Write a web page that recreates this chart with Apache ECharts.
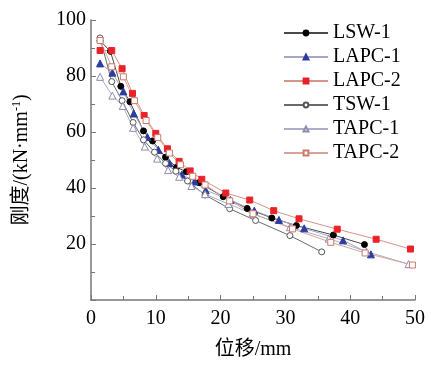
<!DOCTYPE html>
<html>
<head>
<meta charset="utf-8">
<script src="https://cdn.jsdelivr.net/npm/echarts@6/dist/echarts.min.js"></script>
<style>
html,body{margin:0;padding:0;background:#fff;}
#c{width:431px;height:365px;}
</style>
</head>
<body>
<div id="c"></div>
<script>
var names = ['LSW-1','LAPC-1','LAPC-2','TSW-1','TAPC-1','TAPC-2'];

var lswX  = [1.4, 3.0, 4.6, 6.0, 8.1, 9.5, 11.5, 13.2, 14.7, 16.7, 20.4, 24.1, 27.9, 31.7, 37.4, 42.2];
var lswY  = [92.6, 88.8, 76.3, 70.8, 60.4, 56.8, 51.0, 47.4, 45.8, 41.9, 36.9, 32.7, 29.3, 26.6, 23.2, 19.8];

var lapc1X = [1.4, 3.3, 5.0, 6.6, 8.7, 10.4, 12.1, 14.0, 16.0, 17.7, 21.5, 25.2, 29.0, 32.9, 38.9, 43.2];
var lapc1Y = [84.5, 81.2, 74.5, 66.6, 58.2, 53.6, 48.9, 44.8, 42.3, 39.2, 35.7, 31.9, 28.6, 25.6, 21.3, 16.3];

var lapc2X = [1.4, 3.2, 4.8, 6.4, 8.2, 10.0, 11.8, 13.6, 15.3, 17.1, 20.8, 24.5, 28.2, 32.1, 38.0, 44.0, 49.3];
var lapc2Y = [89.1, 89.1, 82.6, 73.8, 65.9, 59.5, 54.0, 49.5, 46.1, 43.1, 38.2, 35.7, 31.9, 29.0, 25.3, 21.7, 18.2];

var tswX  = [1.4, 3.2, 4.8, 6.5, 8.1, 9.8, 11.5, 13.1, 14.9, 17.6, 21.4, 25.4, 30.7, 35.6];
var tswY  = [93.6, 78.0, 71.2, 63.4, 57.2, 52.8, 48.8, 46.0, 42.5, 37.5, 32.6, 28.4, 23.0, 17.2];

var tapc1X = [1.4, 3.3, 4.9, 6.5, 8.3, 10.2, 11.9, 13.6, 15.5, 17.6, 21.2, 24.9, 30.7, 36.7, 42.5, 49.0];
var tapc1Y = [79.7, 73.0, 69.3, 61.5, 54.8, 50.5, 46.4, 44.0, 40.7, 37.8, 34.3, 30.8, 26.0, 21.9, 17.3, 12.8];

var tapc2X = [1.4, 3.2, 5.0, 6.7, 8.5, 10.3, 12.1, 13.8, 15.7, 17.6, 21.4, 25.0, 31.1, 37.0, 42.3, 49.6];
var tapc2Y = [92.7, 83.3, 79.7, 71.2, 64.1, 58.0, 52.5, 48.3, 44.2, 41.1, 35.4, 30.8, 25.4, 20.6, 16.8, 12.5];

var xTicks = [0, 10, 20, 30, 40, 50];
var yTicks = [0, 20, 40, 60, 80, 100];

function zip(xs, ys){ return xs.map(function(x,i){ return [x, ys[i]]; }); }

var styles = [
  {symbol:'circle',   size:6, fill:'#000000', border:'#000000', line:'#4a4a4a'},
  {symbol:'triangle', size:7, fill:'#2b3c9e', border:'#2b3c9e', line:'#a4a6c4'},
  {symbol:'rect',     size:6, fill:'#ea2228', border:'#ea2228', line:'#d49488'},
  {symbol:'circle',   size:6, fill:'#ffffff', border:'#555555', line:'#6a6a6a'},
  {symbol:'triangle', size:7, fill:'#ffffff', border:'#8c8cae', line:'#aeaecb'},
  {symbol:'rect',     size:6, fill:'#ffffff', border:'#c87a6c', line:'#d8a49a'}
];
var datas = [zip(lswX,lswY), zip(lapc1X,lapc1Y), zip(lapc2X,lapc2Y), zip(tswX,tswY), zip(tapc1X,tapc1Y), zip(tapc2X,tapc2Y)];

var series = names.map(function(n,i){
  var s = styles[i];
  return {
    name:n, type:'line', data:datas[i],
    symbol:s.symbol, symbolSize:s.size,
    showAllSymbol:true,
    lineStyle:{color:s.line, width:1},
    itemStyle:{color:s.fill, borderColor:s.border, borderWidth:1},
    emphasis:{disabled:true},
    animation:false
  };
});

var serif = '"Liberation Serif","Noto Sans CJK SC",serif';

var chart = echarts.init(document.getElementById('c'));
chart.setOption({
  backgroundColor:'#fff',
  animation:false,
  grid:{left:91, right:16, top:20, bottom:61, containLabel:false},
  legend:{
    orient:'vertical', left:283, top:23, padding:0,
    itemWidth:44, itemHeight:6, itemGap:4,
    textStyle:{fontFamily:serif, fontSize:20, color:'#000', lineHeight:20},
    data:names
  },
  xAxis:{
    type:'value', min:xTicks[0], max:xTicks[xTicks.length-1], interval:10,
    name:'位移/mm', nameLocation:'middle', nameGap:40,
    nameTextStyle:{fontFamily:serif, fontSize:20, color:'#000'},
    axisLine:{show:true, lineStyle:{color:'#777', width:1.5}},
    axisTick:{show:true, inside:true, length:5, lineStyle:{color:'#777'}},
    minorTick:{show:true, splitNumber:2, length:4, lineStyle:{color:'#777'}},
    axisLabel:{fontFamily:serif, fontSize:20, color:'#000', margin:9},
    splitLine:{show:false}
  },
  yAxis:{
    type:'value', min:yTicks[0], max:yTicks[yTicks.length-1], interval:20,
    name:'刚度/(kN·mm{sup|-1})', nameLocation:'middle', nameGap:58,
    nameTextStyle:{fontFamily:serif, fontSize:20, color:'#000',
      rich:{sup:{fontFamily:serif, fontSize:12, color:'#000', verticalAlign:'top', padding:[0,0,10,0]}}},
    axisLine:{show:true, lineStyle:{color:'#777', width:1.5}},
    axisTick:{show:true, inside:true, length:5, lineStyle:{color:'#777'}},
    minorTick:{show:true, splitNumber:2, length:4, lineStyle:{color:'#777'}},
    axisLabel:{fontFamily:serif, fontSize:20, color:'#000', margin:5, showMinLabel:false},
    splitLine:{show:false}
  },
  series:series
});
</script>
</body>
</html>
